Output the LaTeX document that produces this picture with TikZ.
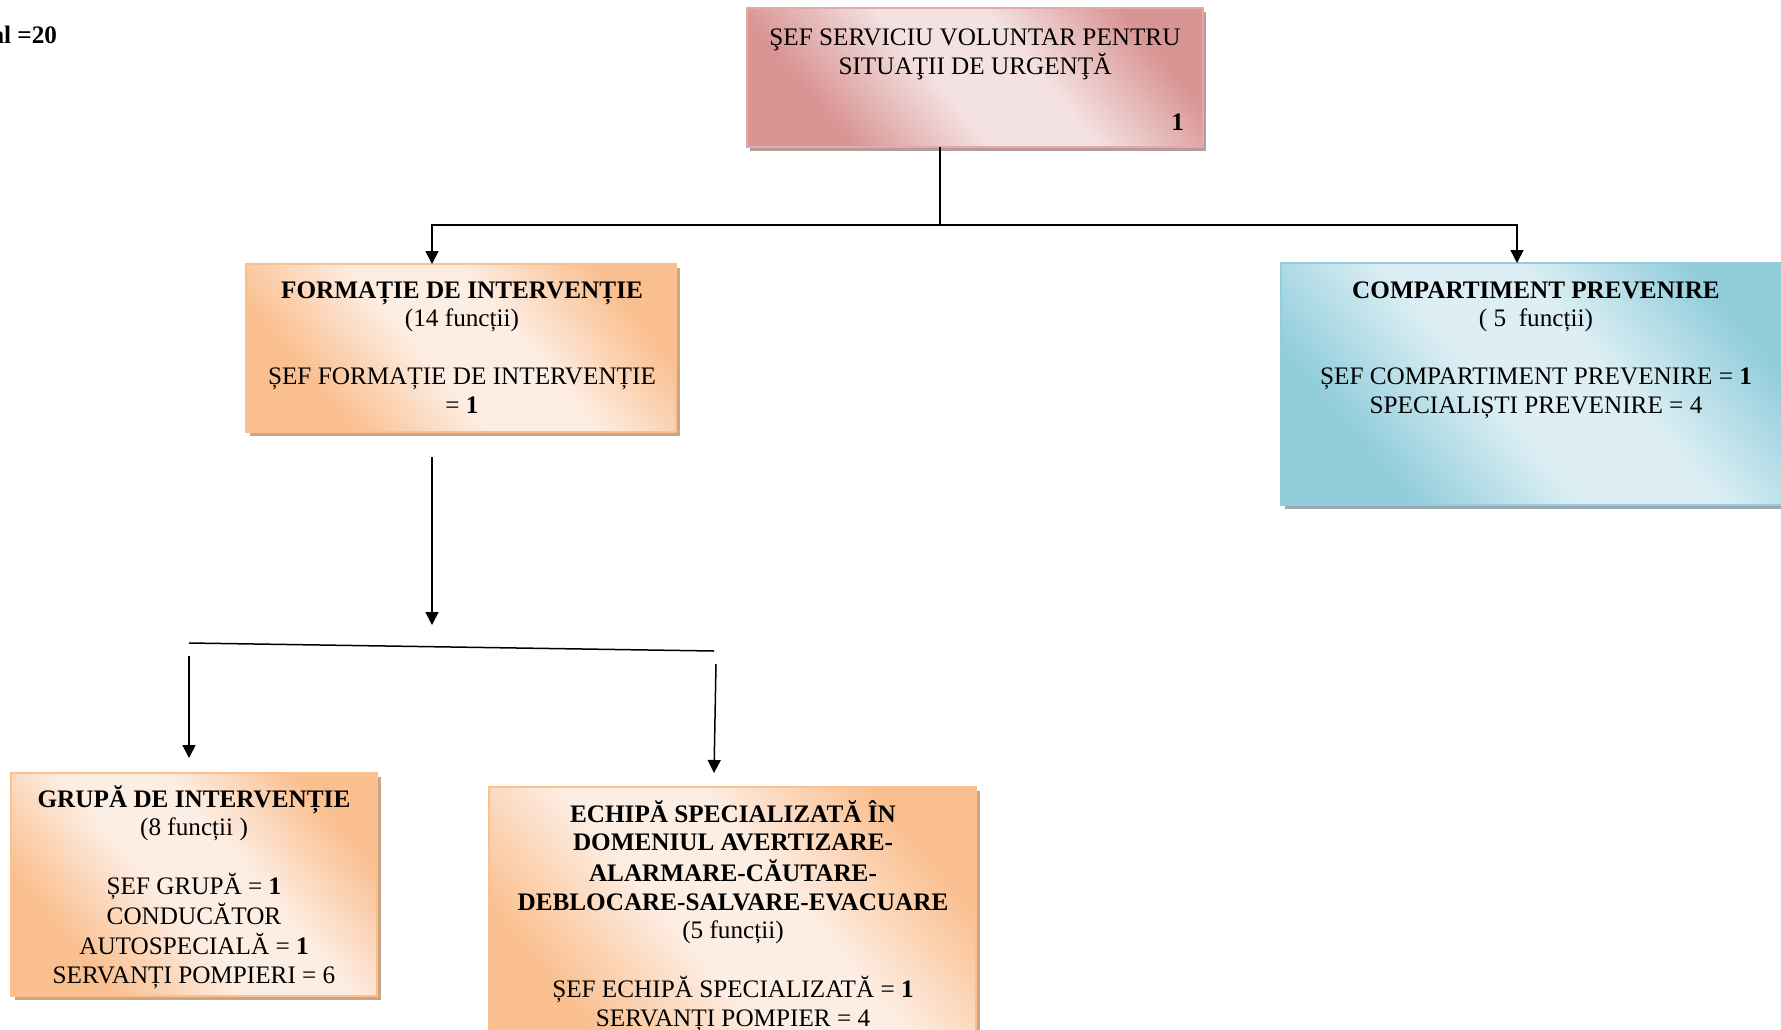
\documentclass[tikz,border=0pt]{standalone}
\usepackage{fontspec}
\setmainfont{Liberation Serif}
\usetikzlibrary{arrows.meta,shadows}
\definecolor{pinkD}{HTML}{D99594}
\definecolor{pinkL}{HTML}{F4E2E2}
\definecolor{pinkB}{HTML}{E3AAAA}
\definecolor{pinkS}{HTML}{B89A9A}
\definecolor{orD}{HTML}{FABF8F}
\definecolor{orL}{HTML}{FDEEE4}
\definecolor{orB}{HTML}{FAC090}
\definecolor{orS}{HTML}{C9A784}
\definecolor{blD}{HTML}{92CDDC}
\definecolor{blL}{HTML}{DDEFF4}
\definecolor{blS}{HTML}{9AAAB0}
\pgfdeclarehorizontalshading{pinkshade}{100bp}{color(0bp)=(pinkD); color(28bp)=(pinkD); color(45bp)=(pinkL); color(58bp)=(pinkL); color(75bp)=(pinkD); color(100bp)=(pinkD)}
\pgfdeclarehorizontalshading{orshade}{100bp}{color(0bp)=(orD); color(28bp)=(orD); color(45bp)=(orL); color(58bp)=(orL); color(75bp)=(orD); color(100bp)=(orD)}
\pgfdeclarehorizontalshading{blshade}{100bp}{color(0bp)=(blD); color(28bp)=(blD); color(45bp)=(blL); color(58bp)=(blL); color(75bp)=(blD); color(100bp)=(blD)}
\newcommand{\boxlines}[1]{\begin{tabular}[t]{@{}c@{}}#1\end{tabular}}
\begin{document}
\begin{tikzpicture}[x=1pt,y=-1pt,
  every node/.style={inner sep=0pt, outer sep=0pt},
  txt/.style={anchor=base, font=\fontsize{25.2}{28.75}\selectfont},
  box/.style={rectangle, line width=1.5pt},
  pinkbox/.style={box, draw=pinkB, shading=pinkshade, shading angle=40,
    drop shadow={shadow xshift=3pt, shadow yshift=-4pt, fill=pinkS, opacity=1}},
  orbox/.style={box, draw=orB, shading=orshade, shading angle=40,
    drop shadow={shadow xshift=4pt, shadow yshift=-4pt, fill=orS, opacity=1}},
  blbox/.style={box, draw=blD, shading=blshade, shading angle=40,
    drop shadow={shadow xshift=4pt, shadow yshift=-4pt, fill=blS, opacity=1}},
  conn/.style={line width=1.5pt, black},
  arr/.style={conn, -{Triangle[length=13pt,width=13pt]}},
]
\useasboundingbox (0,0) rectangle (1781,1029);

% boxes
\node[pinkbox, minimum width=456pt, minimum height=139pt] (top) at (975,77.5) {};
\node[orbox, minimum width=430pt, minimum height=168pt] (form) at (461,348) {};
\node[blbox, minimum width=510pt, minimum height=242pt] (comp) at (1536,384) {};
\node[orbox, minimum width=366pt, minimum height=223pt] (grupa) at (194,884.5) {};
\node[orbox, minimum width=487pt, minimum height=283pt] (echipa) at (732.5,928.5) {};

% texts
\node[txt, anchor=base east] (total) at (57,43) {\textbf{al =20}};
\node[txt] (toptxt) at (975,45) {\boxlines{ŞEF SERVICIU VOLUNTAR PENTRU\\ SITUAŢII DE URGENŢĂ}};
\node[txt, anchor=base east] (topnum) at (1184,130) {\textbf{1}};
\node[txt] (formtxt) at (462,298) {\boxlines{\textbf{FORMAȚIE DE INTERVENȚIE}\\ (14 funcții)\\ \\ ȘEF FORMAȚIE DE INTERVENȚIE\\ = \textbf{1}}};
\node[txt] (comptxt) at (1536,298) {\boxlines{\textbf{COMPARTIMENT PREVENIRE}\\ ( 5~~funcții)\\ \\ ȘEF COMPARTIMENT PREVENIRE = \textbf{1}\\ SPECIALIȘTI PREVENIRE = 4}};
\node[txt] (grtxt) at (194,807) {\boxlines{\textbf{GRUPĂ DE INTERVENȚIE}\\ (8 funcții )\\ \\ ȘEF GRUPĂ = \textbf{1}\\ CONDUCĂTOR\\ AUTOSPECIALĂ = \textbf{1}\\ SERVANȚI POMPIERI = 6}};
\node[txt] (echtxt) at (733,822) {\boxlines{\textbf{ECHIPĂ SPECIALIZATĂ ÎN}\\ \textbf{DOMENIUL AVERTIZARE-}\\ \textbf{ALARMARE-CĂUTARE-}\\ \textbf{DEBLOCARE-SALVARE-EVACUARE}\\ (5 funcții)\\ \\ ȘEF ECHIPĂ SPECIALIZATĂ = \textbf{1}\\ SERVANȚI POMPIER = 4}};

% connectors
\coordinate (j1) at (940,225);
\coordinate (jl) at (432,225);
\coordinate (jr) at (1517,225);
\draw[conn] (j1 |- top.south) -- (j1);
\draw[arr] (j1) -- (jl) -- (jl |- form.north);
\draw[arr] (j1) -- (jr) -- (jr |- comp.north);

\coordinate (f1) at (432,457);
\coordinate (f2) at (432,625);
\draw[arr] (f1) -- (f2);
\coordinate (s1) at (189,643);
\coordinate (s2) at (714,651);
\draw[conn] (s1) -- (s2);
\coordinate (g1) at (189,656);
\coordinate (g2) at (189,758);
\draw[arr] (g1) -- (g2);
\coordinate (e1) at (716,664);
\coordinate (e2) at (714,773);
\draw[arr] (e1) -- (e2);
\end{tikzpicture}
\end{document}
